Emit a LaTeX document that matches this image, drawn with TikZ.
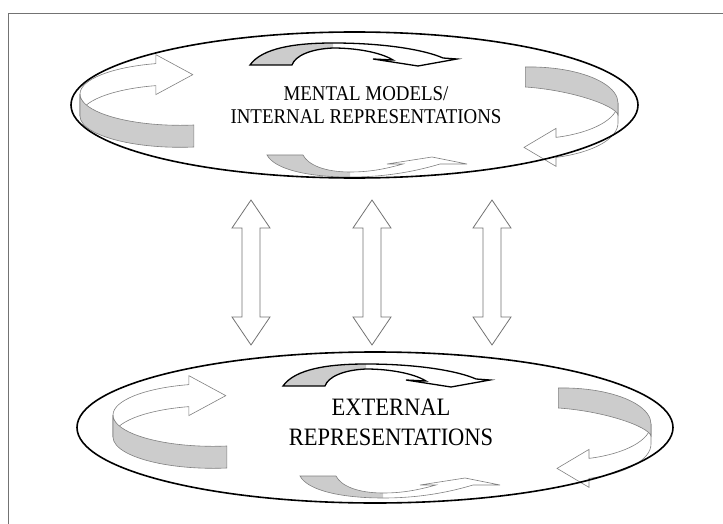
\documentclass[tikz,border=0pt]{standalone}
\usepackage{fontspec}
\setmainfont{Liberation Serif}
\newfontfamily\labelfont{Liberation Serif}[FakeStretch=0.9]
\usetikzlibrary{calc,shapes.geometric}
\tikzset{
  frameline/.style={draw=black!55, line width=1},
  ellipsebox/.style={ellipse, draw=black, line width=1.6, inner sep=0, fill=none},
  bandgray/.style={fill=black!20, draw=black!50, line width=0.6},
  bandwhite/.style={fill=white, draw=black!50, line width=0.6},
  arcdark/.style={draw=black, line width=1.3, line join=miter},
  arclight/.style={draw=black!50, line width=0.6},
  tailfill/.style={fill=black!20},
  dblarrow/.style={draw=black!55, line width=0.8, fill=white, line join=miter},
  label/.style={align=center, inner sep=0}
}
\newcommand\ribbonset{%
  % left ring arrow
  \filldraw[bandwhite] (80,94) arc[start angle=180, end angle=256, x radius=100, y radius=31.3]
     -- ++(0,-9) -- ++(37,20) -- ++(-37,20) -- ++(0,-9)
     arc[start angle=256, end angle=180, x radius=100, y radius=31.3] -- cycle;
  \filldraw[bandgray] (193.9,125) arc[start angle=82, end angle=180, x radius=100, y radius=31.3]
     -- ++(0,22) arc[start angle=180, end angle=82, x radius=100, y radius=31.3] -- cycle;
  % right ring arrow
  \filldraw[bandwhite] (618,103) arc[start angle=0, end angle=72.8, x radius=88, y radius=36]
     -- ++(0,-9) -- ++(-32,19) -- ++(32,19) -- ++(0,-9)
     arc[start angle=72.8, end angle=0, x radius=88, y radius=36] -- cycle;
  \filldraw[bandgray] (525.4,67) arc[start angle=267, end angle=360, x radius=88, y radius=36]
     -- ++(0,12) .. controls (615,105) and (570,90) .. (525.4,87) -- cycle;
  % top centre arrow (dark outline)
  \fill[tailfill] (250,65) .. controls (262,48) and (295,43) .. (333,43)
     -- (333,48) .. controls (310,49) and (295,56) .. (292,65) -- cycle;
  \draw[arcdark] (250,65) .. controls (262,48) and (295,43) .. (333,43)
     .. controls (385,43) and (425,50) .. (443,58) -- (457,59) -- (418,66) -- (373,59) -- (393,60)
     .. controls (380,52) and (355,48) .. (333,48)
     .. controls (310,49) and (295,56) .. (292,65) -- cycle;
  % bottom centre arrow (light outline)
  \fill[tailfill] (267,155) .. controls (275,170) and (310,177) .. (350,177)
     -- (350,172) .. controls (325,172) and (308,165) .. (303,155) -- cycle;
  \draw[arclight] (267,155) .. controls (275,170) and (310,177) .. (350,177)
     .. controls (390,177) and (420,170) .. (440,164) -- (467,164) -- (432,157) -- (387,164) -- (403,164)
     .. controls (385,169) and (370,172) .. (350,172)
     .. controls (325,172) and (308,165) .. (303,155) -- cycle;
}
\newcommand\updown[2]{%
  \filldraw[dblarrow] (#1) -- ++(19,28) -- ++(-10,0) -- ($(#2)+(9,-28)$) -- ++(10,0) -- (#2)
    -- ++(-19,-28) -- ++(10,0) -- ($(#1)+(-9,28)$) -- ++(-10,0) -- cycle;
}
\begin{document}
\begin{tikzpicture}[x=1pt,y=-1pt]
\useasboundingbox (0,0) rectangle (723,524);
\draw[frameline] (8,524) -- (8,14) -- (723,14);

% top ellipse group
\ribbonset
\node[ellipsebox, minimum width=567, minimum height=146] (mental) at (354.5,105) {};
\node[label, font=\labelfont\fontsize{21}{23}\selectfont] (mentaltext) at (366,105)
  {MENTAL MODELS/\\INTERNAL REPRESENTATIONS};

% bottom ellipse group
\begin{scope}[shift={(33,321)}]
\ribbonset
\end{scope}
\node[ellipsebox, minimum width=596, minimum height=151] (external) at (375,427.5) {};
\node[label, font=\labelfont\fontsize{25}{30}\selectfont] (externaltext) at (391,422)
  {EXTERNAL\\REPRESENTATIONS};

% double arrows between the two
\coordinate (a1t) at (251,200); \coordinate (a1b) at (251,345);
\coordinate (a2t) at (372,200); \coordinate (a2b) at (372,345);
\coordinate (a3t) at (492,200); \coordinate (a3b) at (492,345);
\updown{a1t}{a1b}
\updown{a2t}{a2b}
\updown{a3t}{a3b}
\end{tikzpicture}
\end{document}
